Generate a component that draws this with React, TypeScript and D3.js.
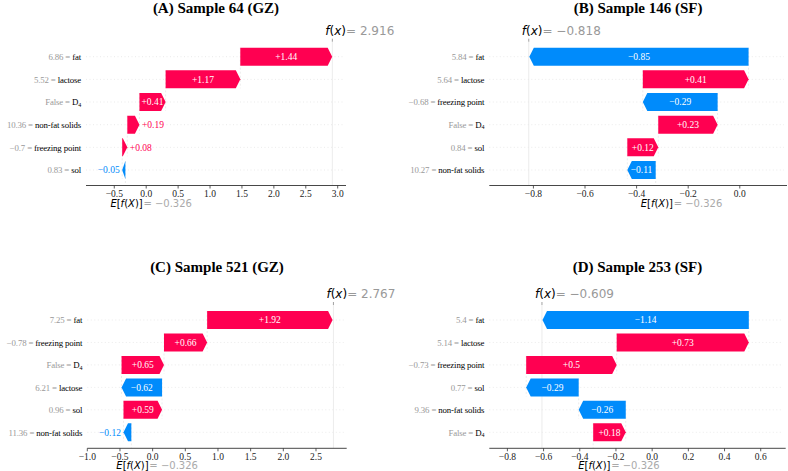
import React from "react";
import * as d3 from "d3";

const baseValue = -0.326;

const titles = ["(A) Sample 64 (GZ)", "(B) Sample 146 (SF)", "(C) Sample 521 (GZ)", "(D) Sample 253 (SF)"];
const fxValues = [2.916, -0.818, 2.767, -0.609];

// features listed top row first
const featuresA = ["fat", "lactose", "D4", "non-fat solids", "freezing point", "sol"];
const inputsA = ["6.86", "5.52", "False", "10.36", "\u22120.7", "0.83"];
const shapA = [1.44, 1.17, 0.41, 0.19, 0.08, -0.05];
const ticksA = [-0.5, 0, 0.5, 1.0, 1.5, 2.0, 2.5, 3.0];

const featuresB = ["fat", "lactose", "freezing point", "D4", "sol", "non-fat solids"];
const inputsB = ["5.84", "5.64", "\u22120.68", "False", "0.84", "10.27"];
const shapB = [-0.85, 0.41, -0.29, 0.23, 0.12, -0.11];
const ticksB = [-0.8, -0.6, -0.4, -0.2, 0.0];

const featuresC = ["fat", "freezing point", "D4", "lactose", "sol", "non-fat solids"];
const inputsC = ["7.25", "\u22120.78", "False", "6.21", "0.96", "11.36"];
const shapC = [1.92, 0.66, 0.65, -0.62, 0.59, -0.12];
const ticksC = [-1.0, -0.5, 0.0, 0.5, 1.0, 1.5, 2.0, 2.5];

const featuresD = ["fat", "lactose", "freezing point", "sol", "non-fat solids", "D4"];
const inputsD = ["5.4", "5.14", "\u22120.73", "0.77", "9.36", "False"];
const shapD = [-1.14, 0.73, 0.5, -0.29, -0.26, 0.18];
const ticksD = [-0.8, -0.6, -0.4, -0.2, 0.0, 0.2, 0.4, 0.6];

const RED = "#ff0051";
const BLUE = "#008bfb";
const SERIF = "Liberation Serif, serif";
const SANS = "DejaVu Sans";

const minus = (s: string) => s.replace("-", "\u2212");
const fmtTick = (v: number) => minus(d3.format(".1f")(v));
const fmtShap = (v: number) => (v > 0 ? "+" : "\u2212") + d3.format("")(Math.abs(v));

const layouts = [
  { x0: 86, x1: 346, domain: [-0.943, 3.13], rowTop: 56.7, rowBot: 170, axisY: 185.5, titleY: 13 },
  { x0: 489.3, x1: 787, domain: [-0.971, 0.183], rowTop: 56.7, rowBot: 170, axisY: 185.5, titleY: 13 },
  { x0: 87.3, x1: 346.7, domain: [-1.0, 2.97], rowTop: 320, rowBot: 432.3, axisY: 448.3, titleY: 272 },
  { x0: 489.3, x1: 785.7, domain: [-0.9, 0.738], rowTop: 320, rowBot: 432.3, axisY: 448.3, titleY: 272 },
];

function FeatureName({ name }: { name: string }) {
  if (name === "D4") {
    return (
      <tspan fill="#000">
        D<tspan fontSize={6} dy={1.5}>4</tspan>
      </tspan>
    );
  }
  return <tspan fill="#000">{name}</tspan>;
}

function Waterfall({ idx, features, inputs, shap, ticks }: any) {
  const L = layouts[idx];
  const x = d3.scaleLinear().domain(L.domain).range([L.x0, L.x1]);
  const y = d3.scalePoint<number>().domain(d3.range(features.length)).range([L.rowTop, L.rowBot]);
  const barH = 18;
  const hl = 4.5;
  const fs = 9.5;
  const fx = fxValues[idx];
  const plotTop = L.rowTop - 15;

  // cumulative from bottom row upward
  const n = shap.length;
  const lefts: number[] = new Array(n);
  let cum = baseValue;
  for (let i = n - 1; i >= 0; i--) {
    lefts[i] = cum;
    cum += shap[i];
  }

  const bars = shap.map((v: number, i: number) => {
    const a = x(lefts[i]);
    const b = x(lefts[i] + v);
    const yc = y(i) as number;
    const t = yc - barH / 2;
    const bt = yc + barH / 2;
    const dist = Math.abs(b - a);
    const h = Math.min(dist, hl);
    const dir = v > 0 ? 1 : -1;
    const neck = b - dir * h;
    const path = `M${a},${t}L${neck},${t}L${b},${yc}L${neck},${bt}L${a},${bt}Z`;
    const label = fmtShap(v);
    const tw = label.length * fs * 0.47;
    const inside = tw < dist;
    const color = v > 0 ? RED : BLUE;
    return (
      <g key={i}>
        <path d={path} fill={color} />
        {inside ? (
          <text x={(a + b) / 2} y={yc + 3.3} fontSize={fs} fill="#fff" textAnchor="middle" fontFamily={SERIF}>
            {label}
          </text>
        ) : (
          <text
            x={b + dir * 2.5}
            y={yc + 3.3}
            fontSize={fs}
            fill={color}
            textAnchor={v > 0 ? "start" : "end"}
            fontFamily={SERIF}
          >
            {label}
          </text>
        )}
      </g>
    );
  });

  const connectors = shap.map((v: number, i: number) => {
    if (i === 0) return null;
    const loc = x(lefts[i] + v);
    return (
      <line
        key={i}
        x1={loc}
        x2={loc}
        y1={(y(i - 1) as number) - barH / 2}
        y2={(y(i) as number) + barH / 2}
        stroke="#d8d8d8"
        strokeWidth={0.5}
        strokeDasharray="2 2"
      />
    );
  });

  const xb = x(baseValue);
  const xf = x(fx);
  const fxStr = minus(d3.format(".3f")(fx));
  const baseStr = minus(d3.format(".3f")(baseValue));

  return (
    <g>
      <text
        x={(L.x0 + L.x1) / 2}
        y={L.titleY}
        textAnchor="middle"
        fontFamily={SERIF}
        fontWeight="bold"
        fontSize={15}
      >
        {titles[idx]}
      </text>
      {features.map((f: string, i: number) => (
        <line
          key={"g" + i}
          x1={L.x0}
          x2={L.x1 - 3}
          y1={y(i)}
          y2={y(i)}
          stroke="#d6d6d6"
          strokeWidth={0.5}
          strokeDasharray="1 2.5"
        />
      ))}
      <line x1={xf} x2={xf} y1={plotTop} y2={L.axisY} stroke="#e6e6e6" strokeWidth={0.8} />
      <line
        x1={xb}
        x2={xb}
        y1={(y(n - 1) as number) - barH / 2}
        y2={L.axisY}
        stroke="#d8d8d8"
        strokeWidth={0.5}
        strokeDasharray="2 2"
      />
      {connectors}
      {bars}
      {features.map((f: string, i: number) => (
        <text
          key={"l" + i}
          x={L.x0 - 5}
          y={(y(i) as number) + 3.2}
          textAnchor="end"
          fontFamily={SERIF}
          fontSize={8.8}
          letterSpacing={-0.15}
        >
          <tspan fill="#999">{inputs[i] + " = "}</tspan>
          <FeatureName name={f} />
        </text>
      ))}
      <line x1={L.x0} x2={L.x1} y1={L.axisY} y2={L.axisY} stroke="#333" strokeWidth={0.9} />
      {ticks.map((t: number) => (
        <g key={t} transform={`translate(${x(t)},${L.axisY})`}>
          <line y1={0} y2={3} stroke="#333" strokeWidth={0.8} />
          <text y={11.5} textAnchor="middle" fontFamily={SERIF} fontSize={fs} fill="#222">
            {fmtTick(t)}
          </text>
        </g>
      ))}
      <line x1={xf} x2={xf} y1={plotTop - 3} y2={plotTop} stroke="#888" strokeWidth={0.8} />
      <text x={xf - 7} y={plotTop - 7} fontFamily={SANS} fontSize={12}>
        <tspan fontStyle="italic">f</tspan>
        <tspan>(</tspan>
        <tspan fontStyle="italic">x</tspan>
        <tspan>)</tspan>
        <tspan fill="#999">{"= " + fxStr}</tspan>
      </text>
      <text x={xb - 15} y={L.axisY + 21} fontFamily={SANS} fontSize={10}>
        <tspan fontStyle="italic">E</tspan>
        <tspan>[</tspan>
        <tspan fontStyle="italic">f</tspan>
        <tspan>(</tspan>
        <tspan fontStyle="italic">X</tspan>
        <tspan>)]</tspan>
      </text>
      <text x={xb + 18} y={L.axisY + 21} fontFamily={SANS} fontSize={10} fill="#aaa">
        {"= " + baseStr}
      </text>
    </g>
  );
}

export default function App() {
  return (
    <svg width={788} height={471} style={{ position: "absolute", left: 0, top: 0, background: "#fff" }}>
      <Waterfall idx={0} features={featuresA} inputs={inputsA} shap={shapA} ticks={ticksA} />
      <Waterfall idx={1} features={featuresB} inputs={inputsB} shap={shapB} ticks={ticksB} />
      <Waterfall idx={2} features={featuresC} inputs={inputsC} shap={shapC} ticks={ticksC} />
      <Waterfall idx={3} features={featuresD} inputs={inputsD} shap={shapD} ticks={ticksD} />
    </svg>
  );
}
